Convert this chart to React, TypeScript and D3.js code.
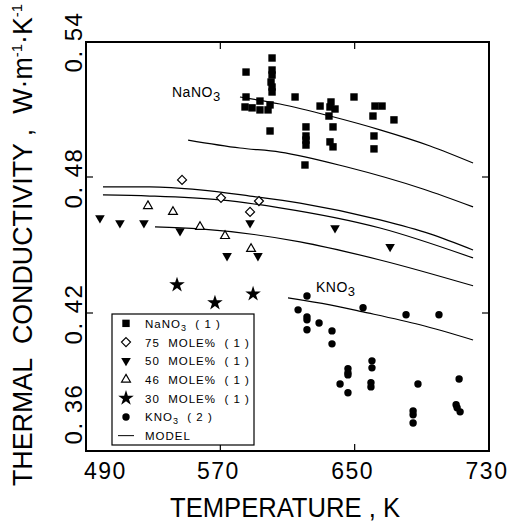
import React from "react";
import * as d3 from "d3";

const nano3: [number, number][] = [
  [600.8, 0.5325], [585.3, 0.5263], [600.8, 0.5272], [600.8, 0.525], [600.2, 0.5219],
  [600.8, 0.5197], [600.8, 0.5175], [585.3, 0.5153], [593.6, 0.5135], [584.7, 0.5109],
  [588.9, 0.5105], [593.6, 0.5096], [598.4, 0.5096], [599.6, 0.5118], [599.6, 0.5003],
  [614.5, 0.5153], [629.4, 0.5113], [635.9, 0.5131], [635.3, 0.5109], [638.3, 0.51],
  [634.7, 0.5069], [649.6, 0.5153], [662.1, 0.5113], [666.3, 0.5113], [660.9, 0.5069],
  [673.4, 0.5052], [621.0, 0.5021], [637.1, 0.5021], [621.0, 0.4981], [621.0, 0.4963],
  [621.0, 0.4941], [635.3, 0.4955], [637.1, 0.4933], [661.5, 0.4981], [661.5, 0.4924],
  [620.4, 0.4853],
];
const mole75: [number, number][] = [
  [547.2, 0.4787], [570.4, 0.4708], [593.0, 0.4694], [587.7, 0.4646],
];
const mole50: [number, number][] = [
  [498.3, 0.4619], [510.2, 0.4597], [524.5, 0.4597], [546.0, 0.4562], [587.7, 0.4597],
  [574.0, 0.4452], [592.4, 0.4452], [638.3, 0.4575], [671.1, 0.4492],
];
const mole46: [number, number][] = [
  [526.9, 0.4672], [541.8, 0.4646], [557.9, 0.458], [572.8, 0.454], [588.3, 0.4483],
];
const mole30: [number, number][] = [
  [544.2, 0.4324], [566.8, 0.4245], [589.5, 0.4284],
];
const kno3: [number, number][] = [
  [621.6, 0.4275], [616.3, 0.4214], [621.6, 0.4183], [621.6, 0.417], [628.8, 0.4156],
  [621.6, 0.4126], [636.5, 0.4121], [636.5, 0.4064], [655.0, 0.4223], [680.6, 0.4192],
  [700.2, 0.4192], [660.3, 0.3989], [660.3, 0.3958], [646.0, 0.3954], [646.0, 0.3936],
  [646.0, 0.3927], [641.3, 0.3887], [646.0, 0.3848], [659.7, 0.3892], [659.7, 0.3874],
  [687.7, 0.3887], [712.2, 0.3909], [684.8, 0.3768], [684.8, 0.3751], [684.8, 0.3715],
  [710.4, 0.3795], [711.0, 0.3782], [712.8, 0.3764],
];

const modelNaNO3: [number, number][] = [
  [581.7, 0.5153], [605.5, 0.5122], [635.3, 0.5069], [665.1, 0.5008], [694.9, 0.4937], [720.5, 0.4862],
];
const model2: [number, number][] = [
  [550.8, 0.4963], [581.7, 0.4928], [605.5, 0.491], [645.4, 0.4844], [690.7, 0.4747], [720.5, 0.4668],
];
const modelA: [number, number][] = [
  [500.1, 0.4756], [528.1, 0.4756], [557.9, 0.4743], [587.7, 0.4716], [617.5, 0.4685],
  [665.1, 0.4611], [694.9, 0.4549], [720.5, 0.4478],
];
const modelB: [number, number][] = [
  [500.1, 0.4721], [528.1, 0.4716], [569.8, 0.4699], [605.5, 0.4664], [665.1, 0.4575], [720.5, 0.4443],
];
const modelC: [number, number][] = [
  [531.1, 0.458], [557.9, 0.4571], [617.5, 0.4514], [665.1, 0.4434], [720.5, 0.432],
];
const modelKNO3: [number, number][] = [
  [610.3, 0.4267], [635.3, 0.4236], [655.0, 0.4205], [688.9, 0.4148], [720.5, 0.4081],
];

const xTicks = [490, 570, 650, 730];
const yTicks = [0.36, 0.42, 0.48, 0.54];
const yTickLabels = ["0. 36", "0. 42", "0. 48", "0. 54"];

const FONT = "'Liberation Sans', Arial, sans-serif";

const L = 86, R = 489, T = 42, B = 451;

export default function App() {
  const x = d3.scaleLinear().domain([490, 730]).range([L, R]);
  const y = d3.scaleLinear().domain([0.36, 0.54]).range([449, 41]);
  const line = d3.line<[number, number]>().x(d => x(d[0])).y(d => y(d[1])).curve(d3.curveMonotoneX);
  const models = [modelNaNO3, model2, modelA, modelB, modelC, modelKNO3];

  const star = d3.symbol().type(d3.symbolStar).size(75)() as string;
  const tri = d3.symbol().type(d3.symbolTriangle).size(34)() as string;
  const triDown = d3.symbol().type(d3.symbolTriangle).size(40)() as string;

  const sq = (cx: number, cy: number, k: string) => (
    <rect key={k} x={cx - 3.7} y={cy - 3.7} width={7.4} height={7.4} fill="#000" />
  );
  const dia = (cx: number, cy: number, k: string) => (
    <path key={k} d={`M${cx},${cy - 4.5}L${cx + 4.5},${cy}L${cx},${cy + 4.5}L${cx - 4.5},${cy}Z`} fill="#fff" stroke="#000" strokeWidth={1.2} />
  );
  const tdown = (cx: number, cy: number, k: string) => (
    <path key={k} d={triDown} transform={`translate(${cx},${cy}) rotate(180)`} fill="#000" />
  );
  const tup = (cx: number, cy: number, k: string) => (
    <path key={k} d={tri} transform={`translate(${cx},${cy})`} fill="#fff" stroke="#000" strokeWidth={1.2} />
  );
  const st = (cx: number, cy: number, k: string) => (
    <path key={k} d={star} transform={`translate(${cx},${cy})`} fill="#000" />
  );
  const ci = (cx: number, cy: number, k: string) => (
    <circle key={k} cx={cx} cy={cy} r={3.7} fill="#000" />
  );

  const legendRows = [
    { m: sq, t: <>NaNO<tspan dy={3} fontSize={9}>3</tspan><tspan dy={-3}>{"  ( 1 )"}</tspan></> },
    { m: dia, t: <>{"75  MOLE%  ( 1 )"}</> },
    { m: tdown, t: <>{"50  MOLE%  ( 1 )"}</> },
    { m: tup, t: <>{"46  MOLE%  ( 1 )"}</> },
    { m: st, t: <>{"30  MOLE%  ( 1 )"}</> },
    { m: ci, t: <>KNO<tspan dy={3} fontSize={9}>3</tspan><tspan dy={-3}>{"  ( 2 )"}</tspan></> },
    { m: null, t: <>MODEL</> },
  ];
  const lgX = 112, lgY = 314, lgW = 142, lgH = 131;
  const rowH = lgH / 7;

  return (
    <svg width={511} height={523} style={{ position: "absolute", left: 0, top: 0, background: "#fff" }} fontFamily={FONT}>
      <rect width={511} height={523} fill="#fff" />
      {/* model lines */}
      {models.map((m, i) => (
        <path key={i} d={line(m) as string} fill="none" stroke="#000" strokeWidth={1.2} />
      ))}
      {/* data */}
      {nano3.map((d, i) => sq(x(d[0]), y(d[1]), "n" + i))}
      {mole75.map((d, i) => dia(x(d[0]), y(d[1]), "d" + i))}
      {mole50.map((d, i) => tdown(x(d[0]), y(d[1]), "t" + i))}
      {mole46.map((d, i) => tup(x(d[0]), y(d[1]), "u" + i))}
      {mole30.map((d, i) => st(x(d[0]), y(d[1]), "s" + i))}
      {kno3.map((d, i) => ci(x(d[0]), y(d[1]), "k" + i))}

      {/* curve labels */}
      <text x={172} y={97} fontSize={14} letterSpacing={0.5}>NaNO<tspan dy={4} fontSize={13}>3</tspan></text>
      <text x={316} y={292} fontSize={14} letterSpacing={0.5}>KNO<tspan dy={4} fontSize={13}>3</tspan></text>

      {/* frame */}
      <rect x={L} y={T} width={R - L} height={B - T} fill="none" stroke="#000" strokeWidth={2} />
      {yTicks.slice(1, 3).map(t => (
        <g key={t}>
          <line x1={L} x2={L + 7} y1={y(t)} y2={y(t)} stroke="#000" strokeWidth={1.2} />
          <line x1={R} x2={R - 7} y1={y(t)} y2={y(t)} stroke="#000" strokeWidth={1.2} />
        </g>
      ))}
      {xTicks.slice(1, 3).map(t => (
        <g key={t}>
          <line x1={x(t)} x2={x(t)} y1={B} y2={B - 7} stroke="#000" strokeWidth={1.2} />
          <line x1={x(t)} x2={x(t)} y1={T} y2={T + 7} stroke="#000" strokeWidth={1.2} />
        </g>
      ))}

      {/* x tick labels */}
      {xTicks.map((t, i) => (
        <text key={t} x={i === 0 ? 84 : x(t) - 2} y={479} fontSize={23} letterSpacing={1.5}
          textAnchor={i === 0 ? "start" : "middle"}>{t}</text>
      ))}
      {/* y tick labels */}
      {yTicks.map((t, i) => (
        <text key={t} transform={`translate(82,${i === 0 ? 414 : y(t) + 1}) rotate(-90)`} fontSize={24}
          letterSpacing={1.5} textAnchor="middle" style={{ whiteSpace: "pre" }}>{yTickLabels[i]}</text>
      ))}
      {/* axis titles */}
      <text x={285} y={517} fontSize={27} textAnchor="middle" textLength={230} lengthAdjust="spacingAndGlyphs"
        style={{ whiteSpace: "pre" }}>TEMPERATURE , K</text>
      <text transform="translate(32,245) rotate(-90)" fontSize={27} textAnchor="middle"
        textLength={482} lengthAdjust="spacingAndGlyphs" style={{ whiteSpace: "pre" }}>
        THERMAL  CONDUCTIVITY ,  W·m<tspan dy={-10} fontSize={15}>-1</tspan><tspan dy={10}>·K</tspan><tspan dy={-10} fontSize={15}>-1</tspan>
      </text>

      {/* legend */}
      <rect x={lgX} y={lgY} width={lgW} height={lgH} fill="#fff" stroke="#000" strokeWidth={1.2} />
      {legendRows.map((r, i) => {
        const cy = lgY + rowH * (i + 0.5);
        return (
          <g key={i}>
            {r.m ? r.m(126, cy, "lg" + i) : <line x1={118} x2={134} y1={cy} y2={cy} stroke="#000" strokeWidth={1} />}
            <text x={145} y={cy + 4.5} fontSize={11.5} letterSpacing={1} style={{ whiteSpace: "pre" }}>{r.t}</text>
          </g>
        );
      })}
    </svg>
  );
}
